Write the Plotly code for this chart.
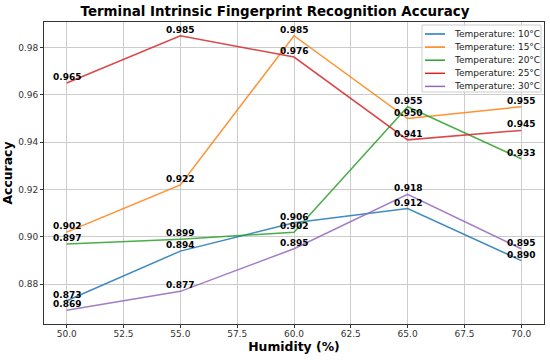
import plotly.graph_objects as go

humidity = [50, 55, 60, 65, 70]
series_names = ["Temperature: 10°C", "Temperature: 15°C", "Temperature: 20°C",
                "Temperature: 25°C", "Temperature: 30°C"]
acc_10 = [0.873, 0.894, 0.906, 0.912, 0.890]
acc_15 = [0.902, 0.922, 0.985, 0.950, 0.955]
acc_20 = [0.897, 0.899, 0.902, 0.955, 0.933]
acc_25 = [0.965, 0.985, 0.976, 0.941, 0.945]
acc_30 = [0.869, 0.877, 0.895, 0.918, 0.895]
colors = ["#1f77b4", "#ff7f0e", "#2ca02c", "#d62728", "#9467bd"]
x_ticks = [50.0, 52.5, 55.0, 57.5, 60.0, 62.5, 65.0, 67.5, 70.0]
y_ticks = [0.88, 0.90, 0.92, 0.94, 0.96, 0.98]

all_series = [acc_10, acc_15, acc_20, acc_25, acc_30]

# plot area in pixels (for legend placement)
L, R, T, B = 44, 544, 22, 324
W, H = R - L, B - T
def px(xp):
    return (xp - L) / W
def py(yp):
    return (B - yp) / H

fig = go.Figure()
annotations = []
shapes = []
for name, vals, c in zip(series_names, all_series, colors):
    fig.add_trace(go.Scatter(x=humidity, y=vals, mode="lines", name=name,
                             line=dict(color=c, width=1.5), opacity=0.85,
                             showlegend=False, hoverinfo="skip"))
    for xv, yv in zip(humidity, vals):
        annotations.append(dict(x=xv, y=yv, xref="x", yref="y", text=f"{yv:.3f}",
                                showarrow=False, yanchor="middle", xanchor="center",
                                yshift=6, font=dict(family="DejaVu Sans", size=9,
                                                    color="black", weight="bold")))

# custom legend box (matplotlib style)
shapes.append(dict(type="rect", xref="paper", yref="paper",
                   x0=px(422), x1=px(541), y0=py(92), y1=py(25),
                   fillcolor="rgba(255,255,255,0.8)", line=dict(color="#cccccc", width=1),
                   layer="above"))
for i, (name, c) in enumerate(zip(series_names, colors)):
    yc = 34 + i * 13.1
    shapes.append(dict(type="line", xref="paper", yref="paper",
                       x0=px(425), x1=px(445), y0=py(yc), y1=py(yc),
                       line=dict(color=c, width=1.5), layer="above"))
    annotations.append(dict(x=px(452), y=py(yc), xref="paper", yref="paper", text=name,
                            showarrow=False, xanchor="left", yanchor="middle",
                            font=dict(family="DejaVu Sans", size=9, color="#222222")))

fig.update_layout(
    width=550, height=361,
    margin=dict(l=L, r=550 - R, t=T, b=361 - B),
    paper_bgcolor="white", plot_bgcolor="white",
    font=dict(family="DejaVu Sans", color="black"),
    title=dict(text="<b>Terminal Intrinsic Fingerprint Recognition Accuracy</b>",
               x=0.5, xanchor="center", y=0.968, yanchor="middle",
               font=dict(size=13.4, color="black")),
    annotations=annotations,
    shapes=shapes,
    showlegend=False,
    hovermode=False,
)
fig.update_xaxes(range=[49, 71], tickvals=x_ticks, ticktext=[f"{v:.1f}" for v in x_ticks],
                 showgrid=True, gridcolor="#cccccc", gridwidth=1,
                 showline=True, linecolor="#333333", linewidth=1, mirror=True,
                 ticks="outside", ticklen=3, tickcolor="#333333",
                 tickfont=dict(size=9, color="#333333"), automargin=False,
                 ticklabelstandoff=-2,
                 title=dict(text="<b>Humidity (%)</b>", font=dict(size=12.4), standoff=2),
                 zeroline=False)
fig.update_yaxes(range=[0.8632, 0.9908], tickvals=y_ticks, ticktext=[f"{v:.2f}" for v in y_ticks],
                 showgrid=True, gridcolor="#cccccc", gridwidth=1,
                 showline=True, linecolor="#333333", linewidth=1, mirror=True,
                 ticks="outside", ticklen=3, tickcolor="#333333",
                 tickfont=dict(size=9, color="#333333"), automargin=False,
                 title=dict(text="<b>Accuracy</b>", font=dict(size=12.4), standoff=5),
                 zeroline=False)

fig.write_html("out.html", config={"displayModeBar": False},
               post_script="document.body.style.margin='0';")
